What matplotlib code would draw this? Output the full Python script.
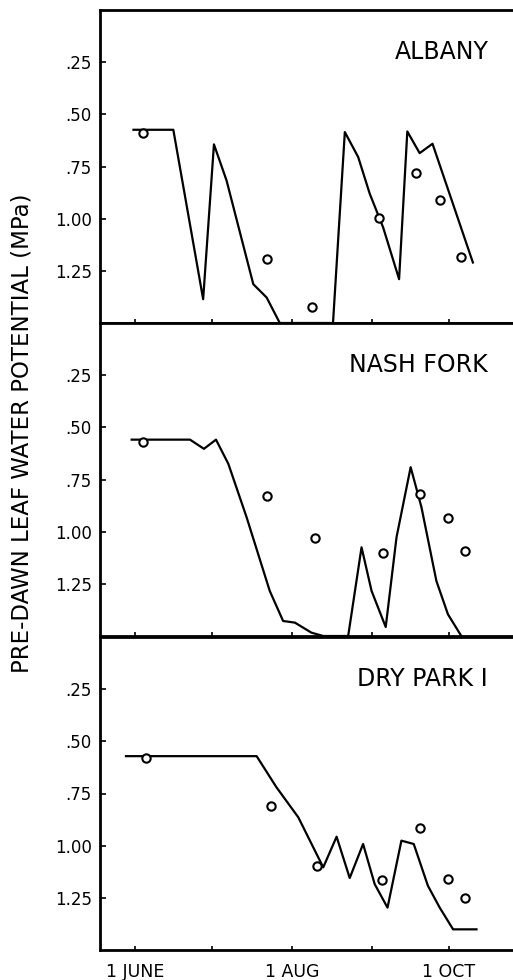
import matplotlib
matplotlib.use('Agg')
import matplotlib.pyplot as plt

# Days counted from 1 June; psi is pre-dawn leaf water potential (-MPa)
month_ticks = [0, 30, 61, 92, 122]
month_labels = ['1 JUNE', '', '1 AUG', '', '1 OCT']
psi_ticks = [0.25, 0.50, 0.75, 1.00, 1.25]
psi_labels = ['.25', '.50', '.75', '1.00', '1.25']

# ALBANY
albany_line_day = [-0.6, 14.9, 26.5, 30.7, 35.6, 46.0, 51.2, 56.3, 77.0, 81.6,
                   86.8, 91.3, 96.5, 102.7, 105.9, 110.7, 115.7, 131.4]
albany_line_psi = [0.574, 0.574, 1.386, 0.644, 0.817, 1.314, 1.378, 1.5, 1.5, 0.585,
                   0.705, 0.881, 1.042, 1.29, 0.582, 0.686, 0.641, 1.21]
albany_obs_day = [3.0, 51.5, 69.0, 94.9, 109.2, 118.8, 126.8]
albany_obs_psi = [0.588, 1.194, 1.423, 0.998, 0.782, 0.91, 1.186]

# NASH FORK
nash_line_day = [-1.3, 21.4, 26.8, 31.5, 36.3, 43.4, 52.4, 57.6, 62.2, 68.6, 73.2,
                 82.9, 88.1, 92.0, 97.5, 101.7, 107.2, 111.4, 117.2, 121.7, 126.9]
nash_line_psi = [0.559, 0.559, 0.603, 0.559, 0.675, 0.931, 1.284, 1.428, 1.436, 1.484, 1.5,
                 1.5, 1.075, 1.284, 1.457, 1.027, 0.691, 0.883, 1.236, 1.396, 1.5]
nash_obs_day = [3.2, 51.5, 70.0, 96.5, 110.7, 121.9, 128.3]
nash_obs_psi = [0.571, 0.827, 1.032, 1.104, 0.819, 0.934, 1.091]

# DRY PARK I
dry_line_day = [-3.5, 47.3, 55.0, 63.5, 73.2, 78.4, 83.5, 88.7, 93.2, 98.2,
                103.6, 108.4, 113.9, 118.5, 123.7, 132.8]
dry_line_psi = [0.571, 0.571, 0.72, 0.864, 1.104, 0.957, 1.155, 0.992, 1.184, 1.297,
                0.976, 0.992, 1.192, 1.297, 1.401, 1.401]
dry_obs_day = [4.2, 52.8, 70.6, 96.0, 110.7, 121.9, 128.5]
dry_obs_psi = [0.579, 0.808, 1.096, 1.165, 0.915, 1.16, 1.251]

plt.rcParams['font.family'] = ['DejaVu Sans']

fig = plt.figure(figsize=(5.13, 9.8), dpi=100)


def draw_panel(rect, name, line_day, line_psi, obs_day, obs_psi, show_xlabels):
    ax = fig.add_axes(rect)
    ax.plot(line_day, line_psi, color='black', linewidth=1.6)
    ax.plot(obs_day, obs_psi, linestyle='none', marker='o', markersize=6,
            markerfacecolor='white', markeredgecolor='black', markeredgewidth=1.5)
    ax.set_xlim(-13.6, 147)
    ax.set_ylim(1.5, 0)
    ax.set_yticks(psi_ticks)
    ax.set_yticklabels(psi_labels)
    ax.set_xticks(month_ticks)
    if show_xlabels:
        ax.set_xticklabels(month_labels)
    else:
        ax.set_xticklabels([])
    ax.tick_params(axis='y', direction='in', length=4, width=1.2, labelsize=12, pad=6)
    ax.tick_params(axis='x', direction='in', length=3, width=1.2, labelsize=12.5, pad=9)
    ax.spines['right'].set_visible(False)
    for side in ['left', 'top', 'bottom']:
        ax.spines[side].set_linewidth(2)
    ax.text(0.94, 0.866, name, transform=ax.transAxes, ha='right', va='center', fontsize=17)
    return ax


draw_panel([0.195, 1 - 323 / 980, 0.805, 313 / 980], 'ALBANY',
           albany_line_day, albany_line_psi, albany_obs_day, albany_obs_psi, False)
draw_panel([0.195, 1 - 636 / 980, 0.805, 313 / 980], 'NASH FORK',
           nash_line_day, nash_line_psi, nash_obs_day, nash_obs_psi, False)
draw_panel([0.195, 1 - 950 / 980, 0.805, 313 / 980], 'DRY PARK I',
           dry_line_day, dry_line_psi, dry_obs_day, dry_obs_psi, True)

fig.text(0.043, 1 - 433 / 980, 'PRE-DAWN LEAF WATER POTENTIAL (MPa)',
         rotation=90, ha='center', va='center', fontsize=16.5)

fig.savefig('out.png', dpi=100)
